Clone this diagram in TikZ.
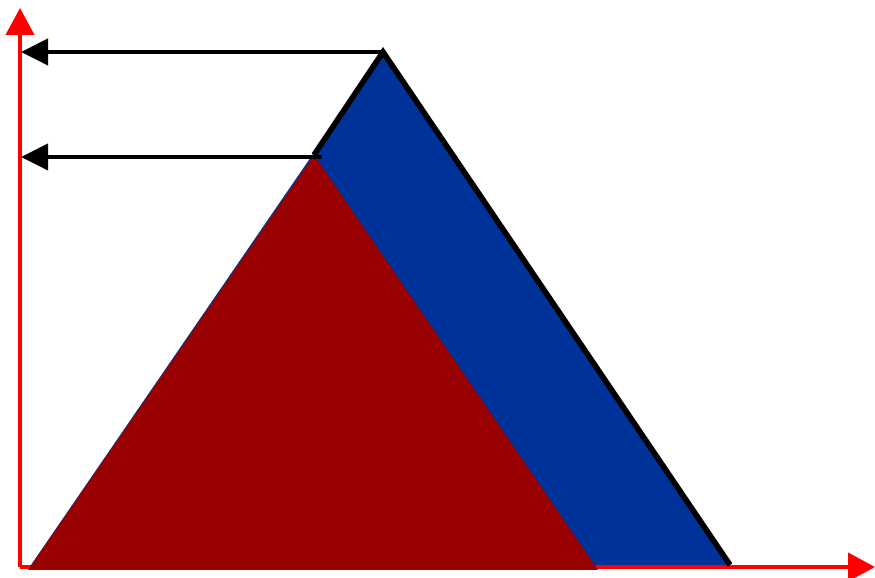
\documentclass[tikz,border=0pt]{standalone}
\usepackage{tikz}
\usetikzlibrary{arrows.meta}

\definecolor{peakblue}{RGB}{0,51,153}
\definecolor{peakred}{RGB}{153,0,0}

\begin{document}
\begin{tikzpicture}[
    axis/.style={-{Triangle[length=0.54cm, width=0.56cm]}, line width=2.2pt, color=red},
    guide/.style={-{Triangle[length=0.54cm, width=0.52cm]}, line width=2.2pt, color=black},
    edge/.style={line width=3.2pt, line join=miter, color=black}
]
    \useasboundingbox (0,0) rectangle (17.5,11.56);
    % axes
    \coordinate (O) at (0.4,0.22);
    \coordinate (ytop) at (0.4,11.4);
    \coordinate (xend) at (17.5,0.22);
    \draw[axis] (O) -- (ytop);
    \draw[axis] (O) -- (xend);
    % peaks
    \coordinate (bl) at (0.62,0.26);
    \coordinate (btop) at (7.66,10.52);
    \coordinate (br) at (14.6,0.26);
    \coordinate (rl) at (0.56,0.16);
    \coordinate (rtop) at (6.28,8.46);
    \coordinate (rr) at (11.96,0.16);
    \fill[peakblue] (bl) -- (btop) -- (br) -- cycle;
    \draw[edge] (rtop) -- (btop) -- (br);
    \fill[peakred] (rl) -- (rtop) -- (rr) -- cycle;
    % levels
    \coordinate (h1) at (0.42,10.52);
    \coordinate (r2) at (6.44,8.42);
    \coordinate (h2) at (0.42,8.42);
    \draw[guide] (btop) -- (h1);
    \draw[guide] (r2) -- (h2);
\end{tikzpicture}
\end{document}
